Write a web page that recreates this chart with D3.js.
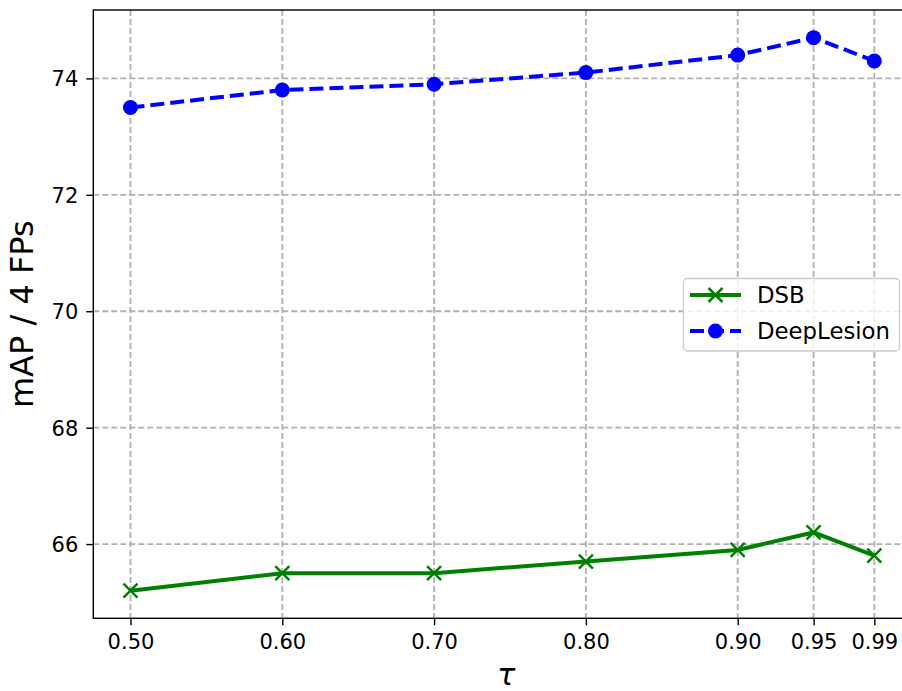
<!DOCTYPE html>
<html>
<head>
<meta charset="utf-8">
<script src="https://cdn.jsdelivr.net/npm/d3@7"></script>
<style>
  body { margin: 0; background: #fff; overflow: hidden; }
  svg { display: block; font-family: "DejaVu Sans", sans-serif; }
</style>
</head>
<body>
<svg id="chart" width="902" height="691"></svg>
<script>
// data
var taus = [0.50, 0.60, 0.70, 0.80, 0.90, 0.95, 0.99];
var tickLabels = ["0.50", "0.60", "0.70", "0.80", "0.90", "0.95", "0.99"];
var dsb = [65.2, 65.5, 65.5, 65.7, 65.9, 66.2, 65.8];
var deepLesion = [73.5, 73.8, 73.9, 74.1, 74.4, 74.7, 74.3];
var yTicks = [66, 68, 70, 72, 74];

var plotLeft = 93.3, plotTop = 10, plotRight = 911.5, plotBottom = 618.3;

var svg = d3.select("#chart");

var x = d3.scaleLinear().domain([0.4755, 1.0145]).range([plotLeft, plotRight]);
var y = d3.scaleLinear().domain([64.725, 75.175]).range([plotBottom, plotTop]);

// grid
var grid = svg.append("g");
grid.selectAll(".gx")
  .data(taus)
  .enter().append("line")
  .attr("x1", function(d) { return x(d); })
  .attr("x2", function(d) { return x(d); })
  .attr("y1", plotTop).attr("y2", plotBottom)
  .attr("stroke", "#b0b0b0").attr("stroke-width", 1.8)
  .attr("stroke-dasharray", "6,3");
grid.selectAll(".gy")
  .data(yTicks)
  .enter().append("line")
  .attr("x1", plotLeft).attr("x2", plotRight)
  .attr("y1", function(d) { return y(d); })
  .attr("y2", function(d) { return y(d); })
  .attr("stroke", "#b0b0b0").attr("stroke-width", 1.8)
  .attr("stroke-dasharray", "6,3");

// axes
var xAxis = d3.axisBottom(x)
  .tickValues(taus)
  .tickFormat(function(d, i) { return tickLabels[i]; })
  .tickSize(7).tickPadding(9);
var yAxis = d3.axisLeft(y)
  .tickValues(yTicks)
  .tickFormat(d3.format("d"))
  .tickSize(7).tickPadding(8);

var gx = svg.append("g")
  .attr("transform", "translate(0," + plotBottom + ")")
  .call(xAxis);
var gy = svg.append("g")
  .attr("transform", "translate(" + plotLeft + ",0)")
  .call(yAxis);

[gx, gy].forEach(function(g) {
  g.select(".domain").remove();
  g.selectAll(".tick line").attr("stroke", "#000").attr("stroke-width", 1.4);
  g.selectAll(".tick text")
    .attr("fill", "#000")
    .style("font-size", "21px")
    .style("font-family", "DejaVu Sans, sans-serif");
});
gy.selectAll(".tick text").attr("dy", "0.36em");

// spines
svg.append("rect")
  .attr("x", plotLeft).attr("y", plotTop)
  .attr("width", plotRight - plotLeft).attr("height", plotBottom - plotTop)
  .attr("fill", "none").attr("stroke", "#000").attr("stroke-width", 1.4);

// lines
var line = d3.line()
  .x(function(d, i) { return x(taus[i]); })
  .y(function(d) { return y(d); });

svg.append("path")
  .datum(dsb)
  .attr("d", line)
  .attr("fill", "none")
  .attr("stroke", "#008000")
  .attr("stroke-width", 4);

svg.append("path")
  .datum(deepLesion)
  .attr("d", line)
  .attr("fill", "none")
  .attr("stroke", "#0000ff")
  .attr("stroke-width", 4)
  .attr("stroke-dasharray", "14,6");

// markers
function crossPath(cx, cy, r) {
  return "M" + (cx - r) + "," + (cy - r) + "L" + (cx + r) + "," + (cy + r) +
         "M" + (cx - r) + "," + (cy + r) + "L" + (cx + r) + "," + (cy - r);
}

svg.selectAll(".xmark")
  .data(dsb)
  .enter().append("path")
  .attr("d", function(d, i) { return crossPath(x(taus[i]), y(d), 7); })
  .attr("stroke", "#008000")
  .attr("stroke-width", 2.5)
  .attr("fill", "none");

svg.selectAll(".dot")
  .data(deepLesion)
  .enter().append("circle")
  .attr("cx", function(d, i) { return x(taus[i]); })
  .attr("cy", function(d) { return y(d); })
  .attr("r", 7.5)
  .attr("fill", "#0000ff");

// legend
var legend = svg.append("g");
legend.append("rect")
  .attr("x", 683.5).attr("y", 278.5)
  .attr("width", 216).attr("height", 72.5)
  .attr("rx", 4)
  .attr("fill", "#fff").attr("fill-opacity", 0.8)
  .attr("stroke", "#cccccc").attr("stroke-width", 1.3);

var legendItems = [
  {name: "DSB", colour: "#008000", dash: null, marker: "x"},
  {name: "DeepLesion", colour: "#0000ff", dash: "14,6", marker: "o"}
];

legendItems.forEach(function(item, i) {
  var ly = 295 + i * 36;
  legend.append("line")
    .attr("x1", 690).attr("x2", 741)
    .attr("y1", ly).attr("y2", ly)
    .attr("stroke", item.colour).attr("stroke-width", 4)
    .attr("stroke-dasharray", item.dash);
  if (item.marker === "x") {
    legend.append("path")
      .attr("d", crossPath(715.5, ly, 7))
      .attr("stroke", item.colour).attr("stroke-width", 2.5);
  } else {
    legend.append("circle")
      .attr("cx", 715.5).attr("cy", ly).attr("r", 7.5)
      .attr("fill", item.colour);
  }
  legend.append("text")
    .attr("x", 757).attr("y", ly)
    .attr("dy", "0.36em")
    .style("font-size", "22.8px")
    .text(item.name);
});

// axis labels
svg.append("text")
  .attr("transform", "translate(33," + ((plotTop + plotBottom) / 2) + ") rotate(-90)")
  .attr("text-anchor", "middle")
  .style("font-size", "32px")
  .text("mAP / 4 FPs");

svg.append("text")
  .attr("x", (plotLeft + plotRight) / 2 + 4)
  .attr("y", 685)
  .attr("text-anchor", "middle")
  .style("font-size", "30px")
  .style("font-style", "italic")
  .text("τ");
</script>
</body>
</html>
